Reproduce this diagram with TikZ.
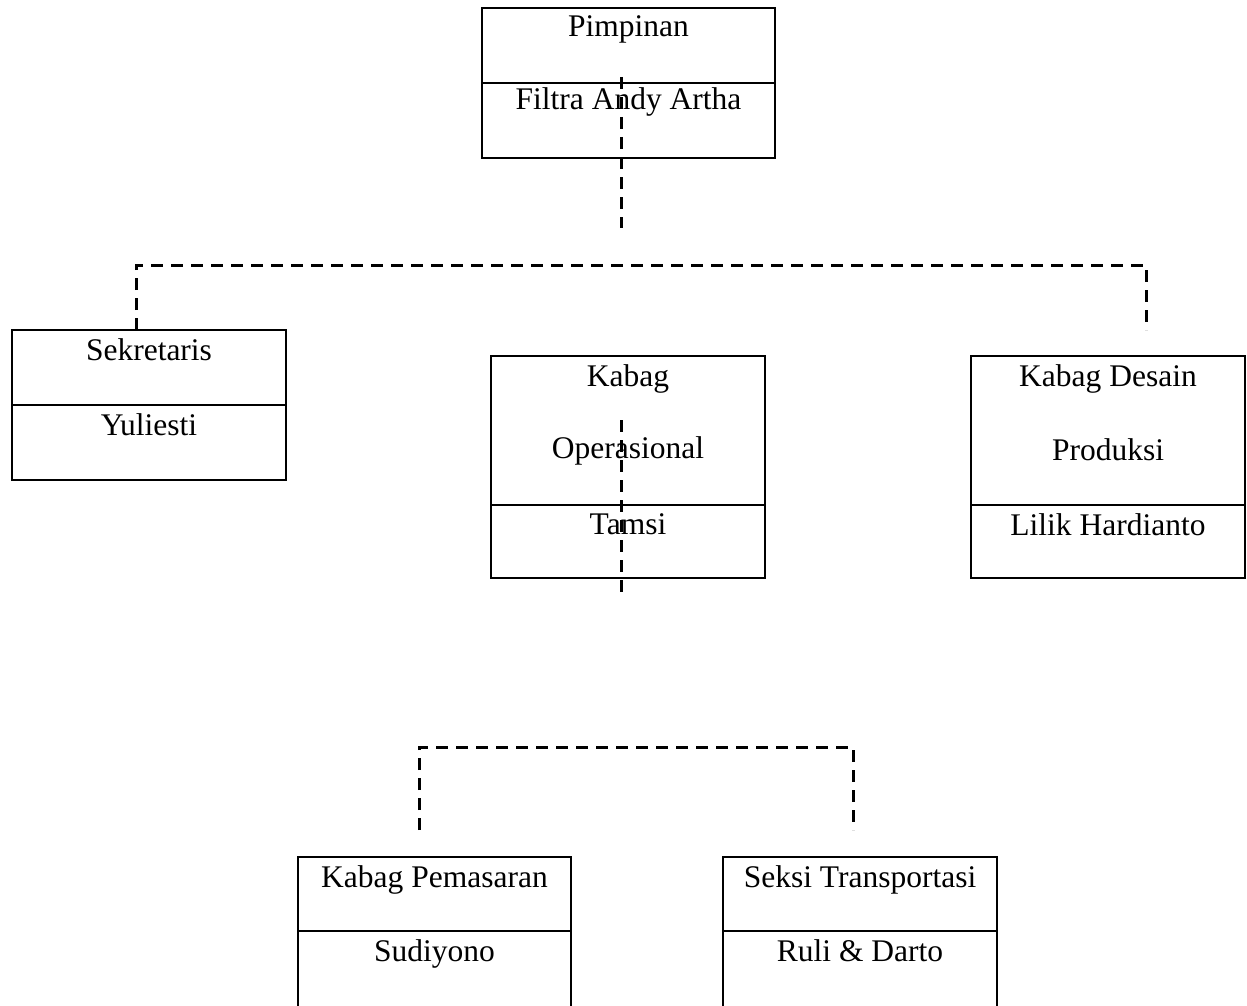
\documentclass[tikz,border=0pt]{standalone}
\usepackage{fontspec}
\setmainfont{Liberation Serif}
\begin{document}
\begin{tikzpicture}[x=1pt,y=-1pt,
  box/.style={draw, line width=2.8pt, inner sep=0pt, outer sep=0pt},
  divider/.style={line width=2.8pt},
  lbl/.style={anchor=base, inner sep=0pt, font=\fontsize{31.5}{38}\selectfont},
  dashline/.style={line width=3pt, dash pattern=on 12pt off 8pt}]
\useasboundingbox (0,0) rectangle (1247,1006);
\clip (0,0) rectangle (1247,1006);

% boxes
\node[box, minimum width=293pt, minimum height=150pt] (pim) at (628.5,83) {};
\draw[divider] (pim.west |- 0,83) -- (pim.east |- 0,83);
\node[lbl] (pimt) at (628.5,37) {Pimpinan};
\node[lbl] (pimn) at (628.5,110) {Filtra Andy Artha};

\node[box, minimum width=274pt, minimum height=150pt] (sek) at (149,405) {};
\draw[divider] (sek.west |- 0,405) -- (sek.east |- 0,405);
\node[lbl] (sekt) at (149,360) {Sekretaris};
\node[lbl] (sekn) at (149,435) {Yuliesti};

\node[box, minimum width=274pt, minimum height=222pt] (ops) at (628,467) {};
\draw[divider] (ops.west |- 0,505) -- (ops.east |- 0,505);
\node[lbl] (opst1) at (628,386) {Kabag};
\node[lbl] (opst2) at (628,458) {Operasional};
\node[lbl] (opsn) at (628,534) {Tamsi};

\node[box, minimum width=274pt, minimum height=222pt] (des) at (1108,467) {};
\draw[divider] (des.west |- 0,505) -- (des.east |- 0,505);
\node[lbl] (dest1) at (1108,386) {Kabag Desain};
\node[lbl] (dest2) at (1108,460) {Produksi};
\node[lbl] (desn) at (1108,535) {Lilik Hardianto};

\node[box, minimum width=273pt, minimum height=180pt] (pem) at (434.5,947) {};
\draw[divider] (pem.west |- 0,931) -- (pem.east |- 0,931);
\node[lbl] (pemt) at (434.5,887) {Kabag Pemasaran};
\node[lbl] (pemn) at (434.5,961) {Sudiyono};

\node[box, minimum width=274pt, minimum height=180pt] (tra) at (860,947) {};
\draw[divider] (tra.west |- 0,931) -- (tra.east |- 0,931);
\node[lbl] (trat) at (860,887) {Seksi Transportasi};
\node[lbl] (tran) at (860,961) {Ruli \& Darto};

% connector end points
\coordinate (p1) at (621,77);
\coordinate (p2) at (621,228);
\coordinate (s1) at (136,330);
\coordinate (s2) at (136,265);
\coordinate (d2) at (1146,265);
\coordinate (d1) at (1146,330);
\coordinate (o1) at (621,420);
\coordinate (o2) at (621,595);
\coordinate (m1) at (419,830);
\coordinate (m2) at (419,747);
\coordinate (t2) at (853,747);
\coordinate (t1) at (853,830);

\draw[dashline] (p1) -- (p2);
\draw[dashline] (s1) -- (s2) -- (d2) -- (d1);
\draw[dashline] (o1) -- (o2);
\draw[dashline] (m1) -- (m2) -- (t2) -- (t1);
\end{tikzpicture}
\end{document}
